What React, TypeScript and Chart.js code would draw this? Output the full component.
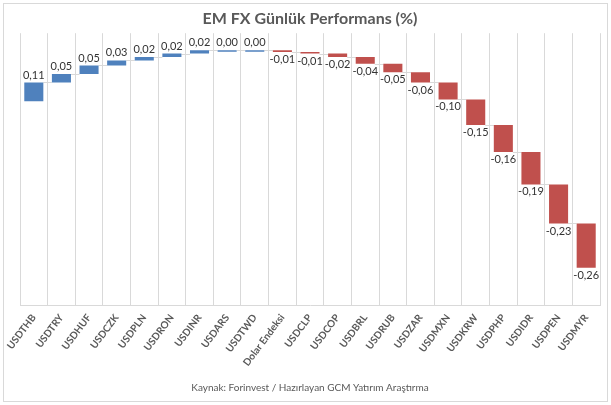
import React, { useEffect, useRef } from "react";
import { Chart, registerables } from "chart.js";

Chart.register(...registerables);

const categories = [
  "USDTHB", "USDTRY", "USDHUF", "USDCZK", "USDPLN", "USDRON", "USDINR", "USDARS", "USDTWD",
  "Dolar Endeksi", "USDCLP", "USDCOP", "USDBRL", "USDRUB", "USDZAR", "USDMXN", "USDKRW",
  "USDPHP", "USDIDR", "USDPEN", "USDMYR",
];
const changes = [
  0.11, 0.05, 0.05, 0.03, 0.02, 0.02, 0.02, 0.0, 0.0,
  -0.01, -0.01, -0.02, -0.04, -0.05, -0.06, -0.1, -0.15,
  -0.16, -0.19, -0.23, -0.26,
];
const titleText = "EM FX Günlük Performans (%)";
const sourceText = "Kaynak: Forinvest / Hazırlayan GCM Yatırım Araştırma";
const yMin = -1.2;
const yMax = 0.4;

const BLUE = "#4F81BD";
const RED = "#C0504D";
const FONT = "Lato, 'Open Sans', sans-serif";

function buildRanges(vals: number[]): [number, number][] {
  const out: [number, number][] = [];
  let acc = 0;
  for (const v of vals) {
    const start = acc;
    acc = Math.round((acc + v) * 10000) / 10000;
    out.push([start, acc]);
  }
  return out;
}

export default function App() {
  const ref = useRef<HTMLCanvasElement | null>(null);

  useEffect(() => {
    if (!ref.current) return;
    const ranges = buildRanges(changes);

    const connectorPlugin = {
      id: "connectors",
      beforeDatasetsDraw(chart: any) {
        const meta = chart.getDatasetMeta(0);
        const ys = chart.scales.y;
        const ctx = chart.ctx;
        ctx.save();
        ctx.strokeStyle = "#D9D9D9";
        ctx.lineWidth = 1;
        for (let i = 0; i < ranges.length - 1; i++) {
          const a = meta.data[i];
          const b = meta.data[i + 1];
          const y = Math.round(ys.getPixelForValue(ranges[i][1])) + 0.5;
          ctx.beginPath();
          ctx.moveTo(a.x + a.width / 2, y);
          ctx.lineTo(b.x - b.width / 2, y);
          ctx.stroke();
        }
        ctx.restore();
      },
    };

    const labelPlugin = {
      id: "valueLabels",
      afterDatasetsDraw(chart: any) {
        const meta = chart.getDatasetMeta(0);
        const ys = chart.scales.y;
        const ctx = chart.ctx;
        ctx.save();
        ctx.font = `11px ${FONT}`;
        ctx.fillStyle = "#333333";
        ctx.textAlign = "center";
        changes.forEach((v, i) => {
          const el = meta.data[i];
          const [s, e] = ranges[i];
          const txt = (v < 0 ? "-" : "") + Math.abs(v).toFixed(2).replace(".", ",");
          if (v >= 0) {
            const top = ys.getPixelForValue(Math.max(s, e));
            ctx.textBaseline = "bottom";
            ctx.fillText(txt, el.x, top - 2);
          } else {
            const bottom = ys.getPixelForValue(Math.min(s, e));
            ctx.textBaseline = "top";
            ctx.fillText(txt, el.x, bottom + 2);
          }
        });
        ctx.restore();
      },
    };

    const chart = new Chart(ref.current, {
      type: "bar",
      data: {
        labels: categories,
        datasets: [
          {
            data: ranges as any,
            backgroundColor: changes.map((v) => (v >= 0 ? BLUE : RED)),
            borderWidth: 0,
            categoryPercentage: 1,
            barPercentage: 0.69,
            minBarLength: 1.5,
          },
        ],
      },
      options: {
        animation: false,
        responsive: true,
        maintainAspectRatio: false,
        layout: { padding: { left: 20, right: 11, top: 0, bottom: 11 } },
        plugins: {
          legend: { display: false },
          tooltip: { enabled: false },
          title: {
            display: true,
            text: titleText,
            color: "#595959",
            font: { family: FONT, size: 16, weight: "bold" },
            padding: { top: 9, bottom: 5 },
          },
          subtitle: {
            display: true,
            position: "bottom",
            text: sourceText,
            color: "#595959",
            font: { family: FONT, size: 10 },
            padding: 0,
          },
        },
        scales: {
          x: {
            grid: { display: true, color: "#D9D9D9", drawTicks: false, offset: true },
            border: { display: true, color: "#D9D9D9" },
            ticks: {
              color: "#595959",
              font: { family: FONT, size: 10, weight: "bold" },
              maxRotation: 53,
              minRotation: 53,
              padding: 7,
              autoSkip: false,
            },
            afterFit: (scale: any) => {
              scale.height = 77;
            },
          },
          y: {
            display: false,
            min: yMin,
            max: yMax,
          },
        },
      },
      plugins: [connectorPlugin, labelPlugin],
    });
    return () => chart.destroy();
  }, []);

  return (
    <div style={{ position: "fixed", left: 0, top: 0, width: 611, height: 405, background: "#fff" }}>
      <canvas ref={ref} />
      <div
        style={{
          position: "absolute",
          left: 3,
          top: 3,
          width: 605,
          height: 399,
          border: "1px solid #D9D9D9",
          boxSizing: "border-box",
          pointerEvents: "none",
        }}
      />
    </div>
  );
}
